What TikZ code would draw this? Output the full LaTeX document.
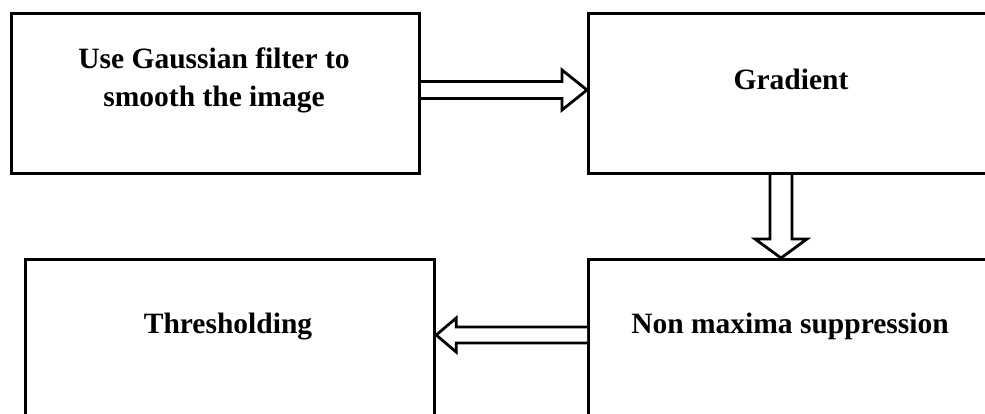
\documentclass[tikz,border=0pt]{standalone}
\usepackage{fontspec}
\setmainfont{Liberation Serif}
\usetikzlibrary{calc}
\begin{document}
\begin{tikzpicture}[x=1pt,y=-1pt,
  box/.style={draw=black,line width=3.2pt,minimum width=#1,inner sep=0pt,anchor=north west},
  lbl/.style={font=\fontsize{29.5}{38}\selectfont\bfseries,align=center,inner sep=0pt},
  hollow/.style={draw=black,line width=2.8pt,line join=miter,fill=white}]
\useasboundingbox (0,0) rectangle (985,414);
\clip (0,0) rectangle (985,414);
\node[box=408pt,minimum height=160pt] (b1) at (10,12) {};
\node[box=406pt,minimum height=160pt] (b2) at (587,12) {};
\node[box=409pt,minimum height=175pt] (b3) at (24,258) {};
\node[box=406pt,minimum height=175pt] (b4) at (587,258) {};
\node[lbl] (t1) at (214,80.5) {Use Gaussian filter to\\smooth the image};
\node[lbl,anchor=base] (t2) at (791,90) {Gradient};
\node[lbl,anchor=base] (t3) at (228,333) {Thresholding};
\node[lbl,anchor=base] (t4) at (790,333) {Non maxima suppression};
% arrow 1: b1 -> b2
\coordinate (a1s) at (b1.east |- 0,90);
\coordinate (a1t) at (b2.west |- 0,90);
\draw[hollow] ($(a1s)+(0,-8.5)$) -- ($(a1t)+(-25,-8.5)$) -- ($(a1t)+(-25,-20)$) -- (a1t)
  -- ($(a1t)+(-25,20)$) -- ($(a1t)+(-25,8.5)$) -- ($(a1s)+(0,8.5)$);
% arrow 2: b2 -> b4
\coordinate (a2s) at (781,0 |- b2.south);
\coordinate (a2t) at (781,0 |- b4.north);
\draw[hollow] ($(a2s)+(-11,0)$) -- ($(a2t)+(-11,-19)$) -- ($(a2t)+(-26,-19)$) -- (a2t)
  -- ($(a2t)+(26,-19)$) -- ($(a2t)+(11,-19)$) -- ($(a2s)+(11,0)$);
% arrow 3: b4 -> b3
\coordinate (a3s) at (b4.west |- 0,335);
\coordinate (a3t) at (b3.east |- 0,335);
\draw[hollow] ($(a3s)+(0,-8)$) -- ($(a3t)+(20,-8)$) -- ($(a3t)+(20,-17)$) -- (a3t)
  -- ($(a3t)+(20,17)$) -- ($(a3t)+(20,8)$) -- ($(a3s)+(0,8)$);
\end{tikzpicture}
\end{document}
